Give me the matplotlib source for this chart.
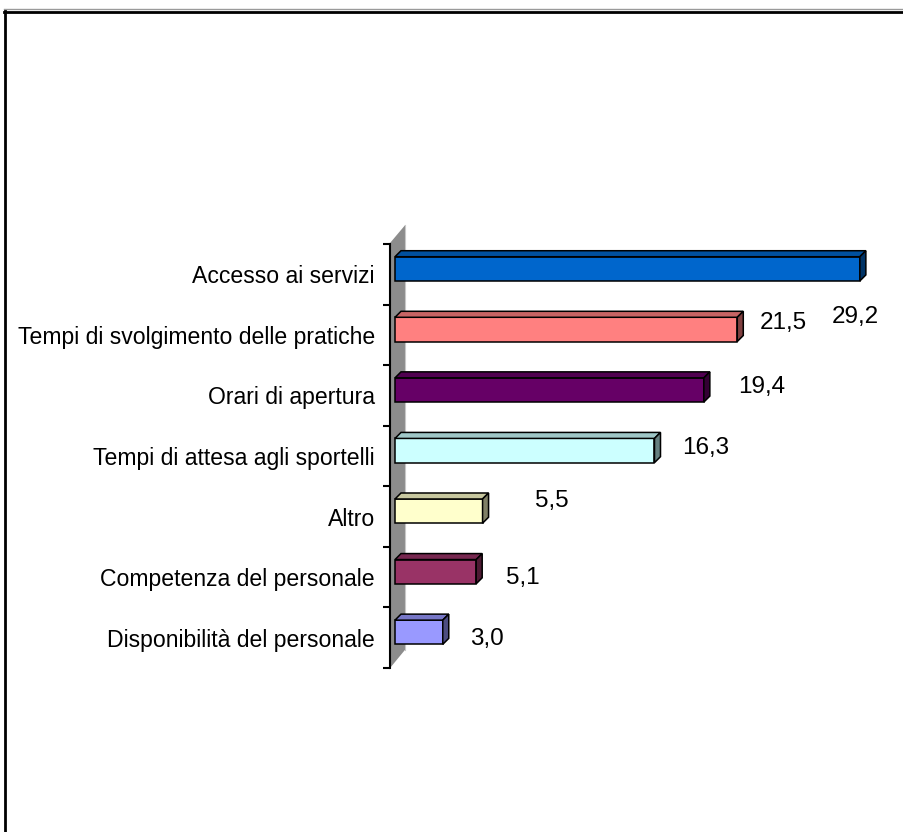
import matplotlib
matplotlib.use('Agg')
import matplotlib.pyplot as plt
from matplotlib.patches import Polygon
from matplotlib.lines import Line2D
from matplotlib.colors import to_rgb

plt.rcParams['font.family'] = ['Liberation Sans', 'DejaVu Sans']

categories = [
    "Accesso ai servizi",
    "Tempi di svolgimento delle pratiche",
    "Orari di apertura",
    "Tempi di attesa agli sportelli",
    "Altro",
    "Competenza del personale",
    "Disponibilità del personale",
]
values = [29.2, 21.5, 19.4, 16.3, 5.5, 5.1, 3.0]
value_labels = ["29,2", "21,5", "19,4", "16,3", "5,5", "5,1", "3,0"]
colors = ["#0066CC", "#FF8080", "#660066", "#CCFFFF", "#FFFFCC", "#993366", "#9999FF"]

# label offsets from the bar end, in points
label_offsets = [(-20, -35), (16.5, 4.5), (24.5, 2), (20, 1.5), (38, 7), (21.5, -4.5), (19.5, -4.5)]

FS_VAL = 17.5
FS_CAT = 16.6
W, H = 904, 832
fig = plt.figure(figsize=(W / 100, H / 100), dpi=100)

# outer frame
fig.add_artist(Line2D([4 / W, 1], [1 - 9 / H, 1 - 9 / H], color='#9a9a9a', lw=1))
fig.add_artist(Line2D([4 / W, 1], [1 - 11.5 / H, 1 - 11.5 / H], color='black', lw=2))
fig.add_artist(Line2D([5.5 / W, 5.5 / W], [0, 1 - 11 / H], color='black', lw=2))

# axes placed so one unit = ~15.9 px and one category = ~60.6 px
px_x, px_y = 15.92, 60.57
left_px, right_px, top_px, bot_px = 383, 900, 220, 680
ax = fig.add_axes([left_px / W, 1 - bot_px / H, (right_px - left_px) / W, (bot_px - top_px) / H])
ax.set_xlim((left_px - 395) / px_x, (right_px - 395) / px_x)
ax.set_ylim((bot_px - 244) / px_y - 0.5, (top_px - 244) / px_y - 0.5)

# side wall
ax.add_patch(Polygon([(-0.31, 6.5), (-0.31, -0.517), (0.63, -0.81), (0.63, 6.2)],
                     closed=True, facecolor='#8c8c8c', edgecolor='none', zorder=1))
ax.plot([0.63, 0.63], [-0.81, 6.2], color='#c8c8c8', lw=0.8, zorder=1)

h = 0.4
dx, dy = 6 / px_x, -6 / px_y
edge_kw = dict(edgecolor='black', linewidth=1.1, zorder=3)
for i, (v, c) in enumerate(zip(values, colors)):
    yc = i - 0.09
    yt, yb = yc - h / 2, yc + h / 2
    rgb = to_rgb(c)
    top = tuple(0.78 * k for k in rgb)
    side = tuple(0.5 * k for k in rgb)
    ax.barh(yc, v, height=h, color=c, **edge_kw)
    ax.add_patch(Polygon([(0, yt), (v, yt), (v + dx, yt + dy), (dx, yt + dy)],
                         closed=True, facecolor=top, joinstyle='miter', **edge_kw))
    ax.add_patch(Polygon([(v, yt), (v + dx, yt + dy), (v + dx, yb + dy), (v, yb)],
                         closed=True, facecolor=side, joinstyle='miter', **edge_kw))

for i, (v, lab, off) in enumerate(zip(values, value_labels, label_offsets)):
    ax.annotate(lab, (v, i - 0.09), xytext=off, textcoords='offset points',
                ha='left', va='center', fontsize=FS_VAL, color='black')

for s in ['top', 'right', 'bottom']:
    ax.spines[s].set_visible(False)
ax.spines['left'].set_position(('data', -0.31))
ax.spines['left'].set_bounds(-0.5, 6.5)
ax.spines['left'].set_linewidth(1.5)
ax.spines['left'].set_zorder(2)

ax.set_xticks([])
ax.set_yticks([i - 0.5 for i in range(len(categories) + 1)])
ax.set_yticklabels([])
ax.tick_params(axis='y', which='major', length=5, width=1.5, direction='out')
ax.set_yticks(range(len(categories)), minor=True)
ax.set_yticklabels(categories, minor=True, fontsize=FS_CAT)
ax.tick_params(axis='y', which='minor', length=0, pad=11)
ax.patch.set_alpha(0)

fig.savefig('out.png', dpi=100)
